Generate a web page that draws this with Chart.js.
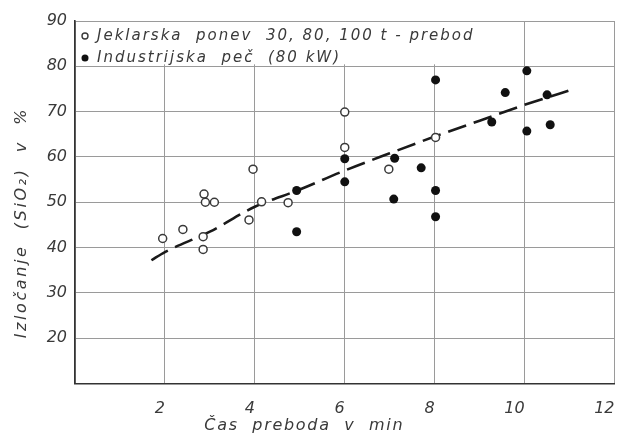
<!DOCTYPE html>
<html>
<head>
<meta charset="utf-8">
<script src="https://cdn.jsdelivr.net/npm/chart.js@4.4.1/dist/chart.umd.min.js"></script>
<style>
  html, body { margin: 0; padding: 0; background: #fff; }
  #wrap { width: 620px; height: 438px; }
</style>
</head>
<body>
<div id="wrap"><canvas id="chart" width="620" height="438"></canvas></div>
<script>
// Jeklarska ponev 30, 80, 100 t - prebod (open circles)
const ladleX = [1.95, 2.4, 2.87, 2.9, 3.1, 2.85, 2.85, 3.87, 3.96, 4.15, 4.74, 6.0, 6.0, 6.98, 8.02];
const ladleY = [42, 44, 51.8, 50, 50, 42.4, 39.6, 46.1, 57.3, 50.1, 49.9, 69.9, 62.1, 57.3, 64.3];

// Industrijska peč (80 kW) (filled circles)
const furnaceX = [4.93, 4.93, 6.0, 6.0, 7.11, 7.09, 7.7, 8.02, 8.02, 8.02, 9.27, 9.57, 10.05, 10.05, 10.5, 10.57];
const furnaceY = [52.6, 43.5, 59.6, 54.5, 59.7, 50.7, 57.6, 77.0, 52.6, 46.8, 67.7, 74.2, 79.0, 65.7, 73.7, 67.1];

// dashed trend curve
const trendX = [1.7, 2, 3, 4, 5, 6, 7, 8, 9, 10, 11.1];
const trendY = [37.2, 39, 43.5, 49, 52.8, 57, 60.8, 64.5, 68, 71.5, 75];

const xTicks = [2, 4, 6, 8, 10, 12];
const yTicks = [20, 30, 40, 50, 60, 70, 80, 90];

const legendLabels = ["Jeklarska  ponev  30, 80, 100 t - prebod", "Industrijska  peč  (80 kW)"];
const xTitle = "Čas  preboda  v  min";
const yTitle = "Izločanje  (SiO₂)  v  %";

const ink = "#3a3a3a";
const gridCol = "#9a9a9a";
const fontFam = "'DejaVu Sans', sans-serif";

const toPoints = (xs, ys) => xs.map((x, i) => ({ x: x, y: ys[i] }));

// legend box + axis titles drawn in the chart's own coordinates
const decor = {
    id: "decor",
    afterDraw(chart) {
        const ctx = chart.ctx;
        const area = chart.chartArea;
        const xs = chart.scales.x;
        const ys = chart.scales.y;
        ctx.save();

        // legend, sitting inside the plot at the top left
        const top = ys.getPixelForValue(90) + 1;
        const bottom = ys.getPixelForValue(80) - 2;
        ctx.fillStyle = "#fff";
        ctx.fillRect(area.left + 1, top, 410, bottom - top);
        ctx.font = "italic 15px " + fontFam;
        ctx.letterSpacing = "2px";
        ctx.textBaseline = "middle";
        ctx.fillStyle = ink;
        const rows = [top + 14, top + 36];
        // open marker
        ctx.beginPath();
        ctx.arc(area.left + 10, rows[0], 3, 0, Math.PI * 2);
        ctx.lineWidth = 1.4;
        ctx.strokeStyle = ink;
        ctx.stroke();
        // filled marker
        ctx.beginPath();
        ctx.arc(area.left + 10, rows[1], 3.5, 0, Math.PI * 2);
        ctx.fillStyle = "#111";
        ctx.fill();
        ctx.fillStyle = ink;
        ctx.textAlign = "left";
        ctx.fillText(legendLabels[0], area.left + 22, rows[0]);
        ctx.fillText(legendLabels[1], area.left + 22, rows[1]);

        // x axis title
        ctx.font = "italic 16px " + fontFam;
        ctx.letterSpacing = "1.7px";
        ctx.textAlign = "center";
        ctx.fillText(xTitle, xs.getPixelForValue(5.1), 426);

        // y axis title, rotated
        ctx.letterSpacing = "2.6px";
        ctx.translate(22, ys.getPixelForValue(45.5));
        ctx.rotate(-Math.PI / 2);
        ctx.fillText(yTitle, 0, 0);
        ctx.restore();
    }
};

const ctx = document.getElementById("chart").getContext("2d");
new Chart(ctx, {
    type: "scatter",
    data: {
        datasets: [
            {
                label: legendLabels[0],
                data: toPoints(ladleX, ladleY),
                pointStyle: "circle",
                pointRadius: 4,
                pointBorderWidth: 1.5,
                pointBackgroundColor: "#fff",
                pointBorderColor: ink,
                order: 1
            },
            {
                label: legendLabels[1],
                data: toPoints(furnaceX, furnaceY),
                pointStyle: "circle",
                pointRadius: 4.5,
                pointBorderWidth: 0,
                pointBackgroundColor: "#111",
                order: 0
            },
            {
                label: "trend",
                data: toPoints(trendX, trendY),
                showLine: true,
                pointRadius: 0,
                borderColor: "#1a1a1a",
                borderWidth: 2.6,
                borderDash: [19, 8],
                borderCapStyle: "butt",
                cubicInterpolationMode: "monotone",
                order: 2
            }
        ]
    },
    options: {
        responsive: false,
        animation: false,
        events: [],
        layout: { padding: { top: 21, right: 5, left: 0, bottom: 0 } },
        plugins: {
            legend: { display: false },
            tooltip: { enabled: false }
        },
        scales: {
            x: {
                type: "linear",
                min: 0,
                max: 12,
                afterBuildTicks: (s) => { s.ticks = [0].concat(xTicks).map(v => ({ value: v })); },
                afterFit: (s) => { s.height = 54.5; s.paddingRight = 0; s.paddingLeft = 0; },
                grid: { color: gridCol, lineWidth: 1, drawTicks: false },
                border: { color: "#333", width: 1.6 },
                ticks: {
                    padding: 16,
                    align: "end",
                    color: ink,
                    font: { family: fontFam, style: "italic", size: 16 },
                    callback: (v) => (v === 0 ? "" : String(v))
                }
            },
            y: {
                type: "linear",
                min: 10,
                max: 90,
                afterBuildTicks: (s) => { s.ticks = [10].concat(yTicks).map(v => ({ value: v })); },
                afterFit: (s) => { s.width = 75; s.paddingTop = 0; s.paddingBottom = 0; },
                grid: { color: gridCol, lineWidth: 1, drawTicks: false },
                border: { color: "#333", width: 1.6 },
                ticks: {
                    padding: 8,
                    color: ink,
                    font: { family: fontFam, style: "italic", size: 16 },
                    callback: (v) => (v === 10 ? "" : String(v))
                }
            }
        }
    },
    plugins: [decor]
});
</script>
</body>
</html>
